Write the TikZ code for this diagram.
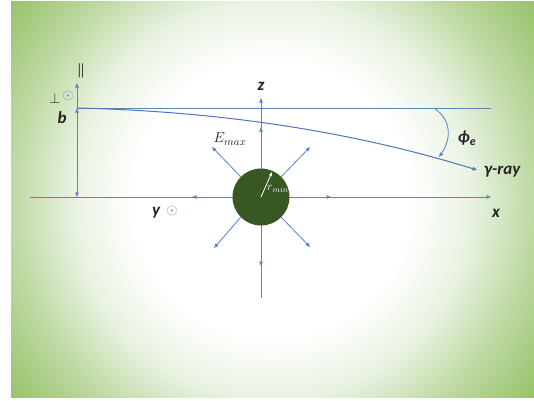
\documentclass[tikz,border=0pt]{standalone}
\usepackage{fontspec}
\usepackage{amsmath}
\newfontfamily\lab{Carlito}
\usetikzlibrary{arrows.meta}
\definecolor{bgdark}{RGB}{150,194,104}
\definecolor{bgmid}{RGB}{190,217,163}
\definecolor{bgpale}{RGB}{234,243,227}
\definecolor{ax}{RGB}{90,130,205}
\definecolor{ball}{RGB}{56,87,35}
\definecolor{txt}{RGB}{35,35,35}
\pgfdeclareradialshading{bgshade}{\pgfpoint{0bp}{0bp}}{color(0bp)=(white); color(10.5bp)=(white); color(15bp)=(bgpale); color(19.8bp)=(bgmid); color(25bp)=(bgdark); color(50bp)=(bgdark)}
\begin{document}
\begin{tikzpicture}[x=1pt,y=-1pt,
  ln/.style={draw=ax, line width=0.8pt},
  tip/.style={-{Triangle[length=4.5pt,width=3.5pt]}},
  lab/.style={font=\lab\fontsize{17}{19}\selectfont\bfseries\itshape, text=txt, inner sep=0pt},
  mth/.style={font=\fontsize{15}{17}\selectfont, text=txt, inner sep=0pt}]
\useasboundingbox (0,0) rectangle (534,400);
\begin{scope}
\clip (11,1) rectangle (534,397);
\shade[shading=bgshade] (-57,-130) rectangle (601,528);
\end{scope}
% coordinates
\coordinate (xl) at (30,197);
\coordinate (xr) at (491,197);
\coordinate (zb) at (261,298);
\coordinate (zt) at (261,98);
\coordinate (tl) at (77,108);
\coordinate (tr) at (491,108);
\coordinate (bb) at (77,197);
\coordinate (par) at (77,83);
\coordinate (gend) at (477,170);
\coordinate (as) at (435,109);
\coordinate (ae) at (439,157);
\coordinate (eN) at (261,127);
\coordinate (eS) at (261,266);
\coordinate (eW) at (192,197);
\coordinate (eE) at (331,197);
\coordinate (eNW) at (212,147);
\coordinate (eNE) at (310,147);
\coordinate (eSW) at (214,248);
\coordinate (eSE) at (310,247);
% axes
\draw[ln, tip] (xl) -- (xr);
\draw[ln, tip] (zb) -- (zt);
\draw[ln, draw=ax!80!gray] (tl) -- (tr);
\draw[ln, {Triangle[length=4.5pt,width=3.5pt]}-{Triangle[length=4.5pt,width=3.5pt]}] (bb) -- (tl);
\draw[ln, tip] (tl) -- (par);
% ball
\node[circle, fill=ball, minimum size=57pt, inner sep=0pt] (ball) at (261,197) {};
\draw[ln, tip] (ball.north) -- (eN);
\draw[ln, tip] (ball.south) -- (eS);
\draw[ln, tip] (ball.west) -- (eW);
\draw[ln, tip] (ball.east) -- (eE);
\draw[ln, tip] (ball.135) -- (eNW);
\draw[ln, tip] (ball.45) -- (eNE);
\draw[ln, tip] (ball.-135) -- (eSW);
\draw[ln, tip] (ball.-45) -- (eSE);
\coordinate (rm) at (272,172);
\draw[white, line width=0.8pt, -{Triangle[length=4pt,width=3pt]}] (ball.center) -- (rm);
% gamma ray path
\draw[draw=ax!90!black, line width=1pt, tip] (tl) .. controls (250,112) and (380,140) .. (gend);
\draw[ln, tip] (as) .. controls (452,120) and (451,140) .. (ae);
% labels
\node[lab] (lz) at (261,86) {z};
\node[mth] (lpar) at (81,71) {$\boldsymbol{\Vert}$};
\node[mth] (lperp) at (55,98) {$\perp$};
\node[mth, text=ax] (lodot1) at (68,96) {$\odot$};
\node[lab] (lb) at (62,118) {b};
\node[mth] (lE) at (230,139) {$E_{max}$};
\node[mth, text=white, anchor=west, font=\fontsize{12}{14}\selectfont] (lr) at (267,189) {$r_{min}$};
\node[lab] (lphi) at (467,138) {ϕ\textsubscript{e}};
\node[lab, anchor=west] (lg) at (484,172) {γ-ray};
\node[lab] (ly) at (156,213) {y};
\node[mth, text=ax] (lodot2) at (172,211) {$\odot$};
\node[lab] (lx) at (496,213) {x};
\end{tikzpicture}
\end{document}
